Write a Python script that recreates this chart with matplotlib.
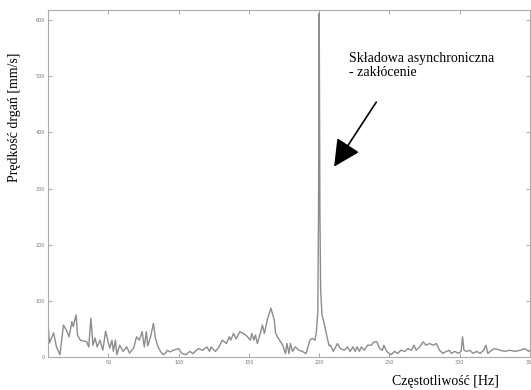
import matplotlib
matplotlib.use("Agg")
import matplotlib.pyplot as plt

# widmo predkosci drgan (odczyt z wykresu)
freq = [7, 8, 11, 13, 15.5, 18, 20, 22, 24, 25, 27, 28, 30, 34.5, 36, 37.5, 39, 40.5,
        42, 44, 46, 48, 50, 51, 52.5, 53.5, 55, 56, 58, 60.5, 63, 65, 68, 70, 72,
        74, 75.5, 77, 78, 80, 82, 83.5, 85, 87, 89, 91, 92, 94, 96, 100, 102, 105,
        108, 110, 114, 117, 120, 122, 123, 126, 128, 131, 134, 136, 137, 139, 141,
        143.5, 146, 149, 151, 152, 153.5, 154.6, 156, 158.4, 159.6, 161, 163, 165.6,
        168, 169, 171, 174, 176, 177, 178.5, 179.5, 181, 183, 185.5, 188, 190.6,
        193.4, 195, 197, 198, 199, 199.5, 200, 200.5, 201, 202, 203.5, 205, 207,
        208, 210, 213, 215, 218, 220, 222, 224, 225.6, 227, 228.6, 230, 232, 234.5,
        237, 239, 241, 243, 245, 246, 248, 251, 253.5, 256, 258, 261, 263, 265.6,
        267.5, 269, 271.5, 274, 276, 278.6, 281, 283.4, 285.6, 288, 290.6, 292.5,
        294, 296.5, 299, 301, 302, 303, 305, 307, 309.5, 312, 314.5, 317, 318.6,
        320, 322.7, 325, 328.7, 332, 335.8, 339.4, 343, 346.5, 349, 350]
velocity = [63, 25, 43, 18, 4, 57, 48, 36, 63, 54, 75, 39, 30, 27, 18, 69, 21, 34,
            18, 30, 12, 46, 25, 16, 30, 10, 30, 4, 21, 10, 18, 7, 16, 36, 30,
            45, 18, 45, 20, 36, 60, 33, 20, 10, 4, 8, 12, 9, 12, 15, 7, 4,
            10, 6, 15, 12, 18, 10, 18, 10, 15, 30, 24, 36, 30, 42, 32,
            45, 42, 36, 30, 42, 30, 39, 24, 45, 57, 42, 66, 87,
            66, 42, 33, 21, 6, 24, 6, 24, 10, 18, 12, 10, 6,
            30, 33, 30, 45, 80, 250, 612, 260, 120, 75, 60, 42, 20,
            21, 10, 24, 15, 12, 18, 10, 18, 10, 18, 10, 18, 12, 21,
            21, 27, 27, 15, 12, 21, 10, 4, 10, 6.5, 12, 10, 15, 12,
            21, 12, 18, 27, 21, 24, 21, 24, 12, 6.5, 10, 12,
            6.5, 10, 6.5, 10, 36, 12, 10, 12, 6.5, 10, 6.5, 12, 21,
            6.5, 12, 15, 12, 10, 12, 10, 12, 15, 10, 12]

xticks = [50, 100, 150, 200, 250, 300, 350]
yticks = [0, 100, 200, 300, 400, 500, 600]

serif = ["Liberation Serif", "DejaVu Serif"]

fig = plt.figure(figsize=(5.31, 3.90), dpi=100)
ax = fig.add_axes([48 / 531, 1 - 357 / 390, 482 / 531, 347 / 390])

ax.plot(freq, velocity, color="#8c8c8c", linewidth=1.0)

ax.set_xlim(7, 350)
ax.set_ylim(0, 618)
ax.set_xticks(xticks)
ax.set_yticks(yticks)
ax.tick_params(direction="in", length=3, width=0.6, colors="#999999",
               labelsize=3.5, labelcolor="#777777", pad=2,
               top=True, right=True)
for s in ax.spines.values():
    s.set_color("#aaaaaa")
    s.set_linewidth(0.8)

fig.text(15 / 531, 1 - 117 / 390, "Prędkość drgań [mm/s]", rotation=90,
         ha="center", va="center", fontsize=10, family=serif)
fig.text(392 / 531, 1 - 382 / 390, "Częstotliwość [Hz]",
         ha="left", va="center", fontsize=10, family=serif)

ax.annotate("", xy=(210.6, 339), xytext=(240.6, 454),
            arrowprops=dict(arrowstyle="-|>,head_length=1.1,head_width=0.55",
                            color="black", linewidth=1.2, mutation_scale=15,
                            shrinkA=0, shrinkB=0))
fig.text(349 / 531, 1 - 52 / 390, "Składowa asynchroniczna\n- zakłócenie",
         ha="left", va="top", fontsize=10, family=serif, linespacing=1.05)

fig.savefig("out.png", dpi=100)
